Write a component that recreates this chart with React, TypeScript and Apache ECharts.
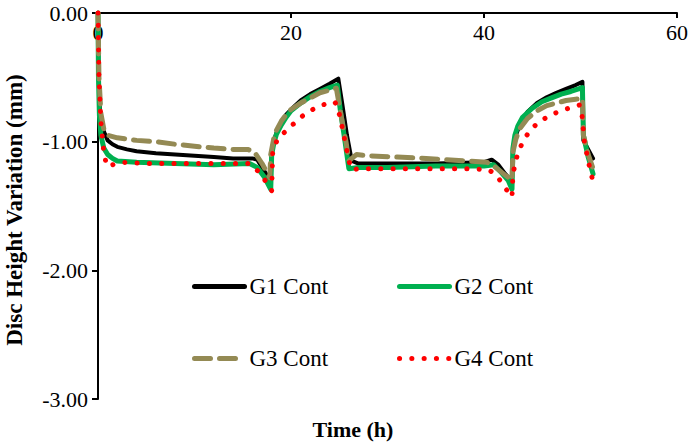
import React, { useEffect, useRef } from "react";
import * as echarts from "echarts";

const seriesNames = ["G1 Cont", "G2 Cont", "G3 Cont", "G4 Cont"];
const xTickValues = [0, 20, 40, 60];
const yTickValues = [-3, -2, -1, 0];

const g1Time = [0, 0.05, 0.15, 0.3, 0.6, 1.0, 1.5, 2, 3, 4, 6, 8, 10, 12, 14, 16, 16.5, 17, 17.5, 17.9, 18.0, 18.2, 18.5, 19, 19.5, 20, 21, 22, 23, 24, 24.9, 25.3, 25.8, 26.3, 27, 30, 35, 40, 40.8, 41.5, 42.2, 42.9, 43.0, 43.3, 43.7, 44.5, 45.5, 46.5, 47.5, 48.5, 49.5, 50.2, 50.3, 50.8, 51.3];
const g1Height = [0, -0.45, -0.7, -0.82, -0.92, -0.99, -1.02, -1.04, -1.06, -1.075, -1.09, -1.1, -1.11, -1.12, -1.13, -1.13, -1.14, -1.2, -1.26, -1.3, -1.09, -1.0, -0.93, -0.85, -0.79, -0.75, -0.68, -0.63, -0.59, -0.55, -0.51, -0.7, -0.95, -1.15, -1.17, -1.17, -1.17, -1.16, -1.14, -1.18, -1.25, -1.31, -1.05, -0.95, -0.87, -0.77, -0.7, -0.655, -0.62, -0.59, -0.56, -0.535, -0.99, -1.06, -1.13];

const g2Time = [0, 0.05, 0.15, 0.3, 0.6, 1.0, 1.5, 2, 4, 8, 12, 15.7, 16.5, 17.2, 17.9, 18.0, 18.2, 18.5, 19, 19.5, 20, 21, 22, 23, 24, 24.8, 25.1, 25.6, 26.0, 27, 30, 35, 40, 41, 41.8, 42.5, 42.9, 43.0, 43.2, 43.5, 44, 45, 46, 47, 48, 49, 50.2, 50.3, 50.8, 51.3];
const g2Height = [0, -0.5, -0.8, -0.95, -1.05, -1.1, -1.13, -1.15, -1.16, -1.17, -1.18, -1.17, -1.2, -1.27, -1.37, -1.1, -1.02, -0.94, -0.87, -0.81, -0.76, -0.7, -0.65, -0.61, -0.58, -0.56, -0.75, -1.0, -1.21, -1.2, -1.2, -1.19, -1.19, -1.18, -1.24, -1.3, -1.37, -1.05, -0.95, -0.88, -0.81, -0.74, -0.69, -0.66, -0.63, -0.61, -0.58, -0.95, -1.12, -1.25];

const g3Time = [0, 0.1, 0.3, 0.6, 1.0, 2, 4, 6, 8, 10, 12, 14, 15.5, 16.2, 17, 17.8, 17.9, 18.2, 18.5, 19, 19.5, 20, 21, 22, 23, 24, 24.7, 25.2, 25.7, 26.0, 26.3, 26.8, 28, 31, 34, 36, 38, 40.3, 41.2, 42.2, 42.9, 43.0, 43.3, 43.7, 44.5, 45.5, 46.5, 47.5, 48.5, 49.5, 50.2, 50.3, 50.8, 51.3];
const g3Height = [0, -0.5, -0.78, -0.9, -0.95, -0.97, -0.99, -1.0, -1.02, -1.035, -1.05, -1.06, -1.06, -1.08, -1.17, -1.28, -1.1, -0.98, -0.91, -0.84, -0.79, -0.75, -0.7, -0.66, -0.62, -0.6, -0.585, -0.8, -1.0, -1.15, -1.13, -1.1, -1.11, -1.12, -1.13, -1.14, -1.15, -1.16, -1.2, -1.26, -1.3, -1.08, -0.98, -0.9, -0.82, -0.76, -0.72, -0.7, -0.68, -0.67, -0.665, -0.95, -1.1, -1.21];

const g4Time = [0, 0.1, 0.3, 0.6, 0.9, 1.5, 2.5, 5, 10, 15.7, 16.6, 17.3, 18.0, 18.1, 18.5, 19, 20, 21, 22, 23, 24.5, 24.8, 25.2, 25.6, 26.0, 26.3, 27, 30, 35, 38.9, 40.5, 41.3, 42, 42.9, 43.0, 43.4, 44, 44.8, 45.5, 46.5, 47.3, 48.2, 49, 49.9, 50.1, 50.4, 50.8, 51.2];
const g4Height = [0, -0.5, -0.85, -1.08, -1.19, -1.18, -1.16, -1.17, -1.17, -1.17, -1.23, -1.3, -1.38, -1.09, -1.0, -0.95, -0.88, -0.81, -0.76, -0.72, -0.69, -0.72, -0.85, -1.0, -1.15, -1.22, -1.21, -1.21, -1.21, -1.21, -1.22, -1.26, -1.34, -1.43, -1.25, -1.12, -1.0, -0.91, -0.86, -0.81, -0.78, -0.755, -0.735, -0.715, -0.75, -1.0, -1.15, -1.28];

const FONT = "Liberation Serif";

const pair = (t: number[], v: number[]) => t.map((x, i) => [x, v[i]]);

export default function App() {
  const ref = useRef<HTMLDivElement>(null);
  useEffect(() => {
    if (!ref.current) return;
    const chart = echarts.init(ref.current, null, { renderer: "svg" });
    const styles = [
      { color: "#000000", width: 4, type: "solid" as any },
      { color: "#00b050", width: 5, type: "solid" as any },
      { color: "#948a54", width: 5, type: [16, 9] as any },
      { color: "#ff0000", width: 5, type: [0.1, 12.2] as any },
    ];
    const dataSets = [
      pair(g1Time, g1Height),
      pair(g2Time, g2Height),
      pair(g3Time, g3Height),
      pair(g4Time, g4Height),
    ];
    const legendPos = [
      { left: 192, top: 275 },
      { left: 397, top: 275 },
      { left: 192, top: 347 },
      { left: 397, top: 347 },
    ];
    chart.setOption({
      animation: false,
      textStyle: { fontFamily: FONT },
      grid: { left: 98, top: 13, right: 14, bottom: 45, containLabel: false },
      xAxis: {
        type: "value",
        position: "top",
        min: xTickValues[0],
        max: xTickValues[xTickValues.length - 1],
        interval: 20,
        axisLine: { show: true, onZero: false, lineStyle: { color: "#000", width: 2 } },
        axisTick: { show: true, inside: true, length: 5, lineStyle: { color: "#000", width: 2 } },
        axisLabel: { inside: true, margin: 8, fontFamily: FONT, fontSize: 22, color: "#000" },
        splitLine: { show: false },
      },
      yAxis: {
        type: "value",
        min: yTickValues[0],
        max: yTickValues[yTickValues.length - 1],
        interval: 1,
        axisLine: { show: true, onZero: false, lineStyle: { color: "#000", width: 2 } },
        axisTick: { show: true, inside: false, length: 6, lineStyle: { color: "#000", width: 2 } },
        axisLabel: {
          margin: 10,
          fontFamily: FONT,
          fontSize: 22,
          color: "#000",
          formatter: (v: number) => v.toFixed(2),
        },
        splitLine: { show: false },
      },
      legend: seriesNames.map((name, i) => ({
        data: [name],
        left: legendPos[i].left,
        top: legendPos[i].top,
        padding: 0,
        itemWidth: 50,
        itemHeight: 14,
        textStyle: { fontFamily: FONT, fontSize: 23, color: "#000" },
        itemStyle: { color: "rgba(0,0,0,0)", borderColor: "rgba(0,0,0,0)", borderWidth: 0, opacity: 0 },
        lineStyle: { width: 5, type: styles[i].type, cap: "round", color: styles[i].color, opacity: 1 },
        selectedMode: false,
      })),
      graphic: [
        {
          type: "text",
          x: 353,
          y: 429,
          style: {
            text: "Time (h)",
            fontFamily: FONT,
            fontSize: 22,
            fontWeight: "bold",
            fill: "#000",
            textAlign: "center",
            textVerticalAlign: "middle",
          },
        },
        {
          type: "text",
          x: 14,
          y: 210,
          rotation: Math.PI / 2,
          style: {
            text: "Disc Height Variation (mm)",
            fontFamily: FONT,
            fontSize: 23,
            fontWeight: "bold",
            fill: "#000",
            textAlign: "center",
            textVerticalAlign: "middle",
          },
        },
      ],
      series: seriesNames.map((name, i) => ({
        name,
        type: "line",
        data: dataSets[i],
        showSymbol: false,
        symbol: "none",
        clip: false,
        lineStyle: { color: styles[i].color, width: styles[i].width, type: styles[i].type, cap: "round", join: "round" },
        itemStyle: { color: styles[i].color },
        z: 2 + i,
      })),
    });
    return () => chart.dispose();
  }, []);
  return (
    <div
      ref={ref}
      style={{ position: "fixed", left: 0, top: 0, width: 691, height: 444, background: "#fff" }}
    />
  );
}
